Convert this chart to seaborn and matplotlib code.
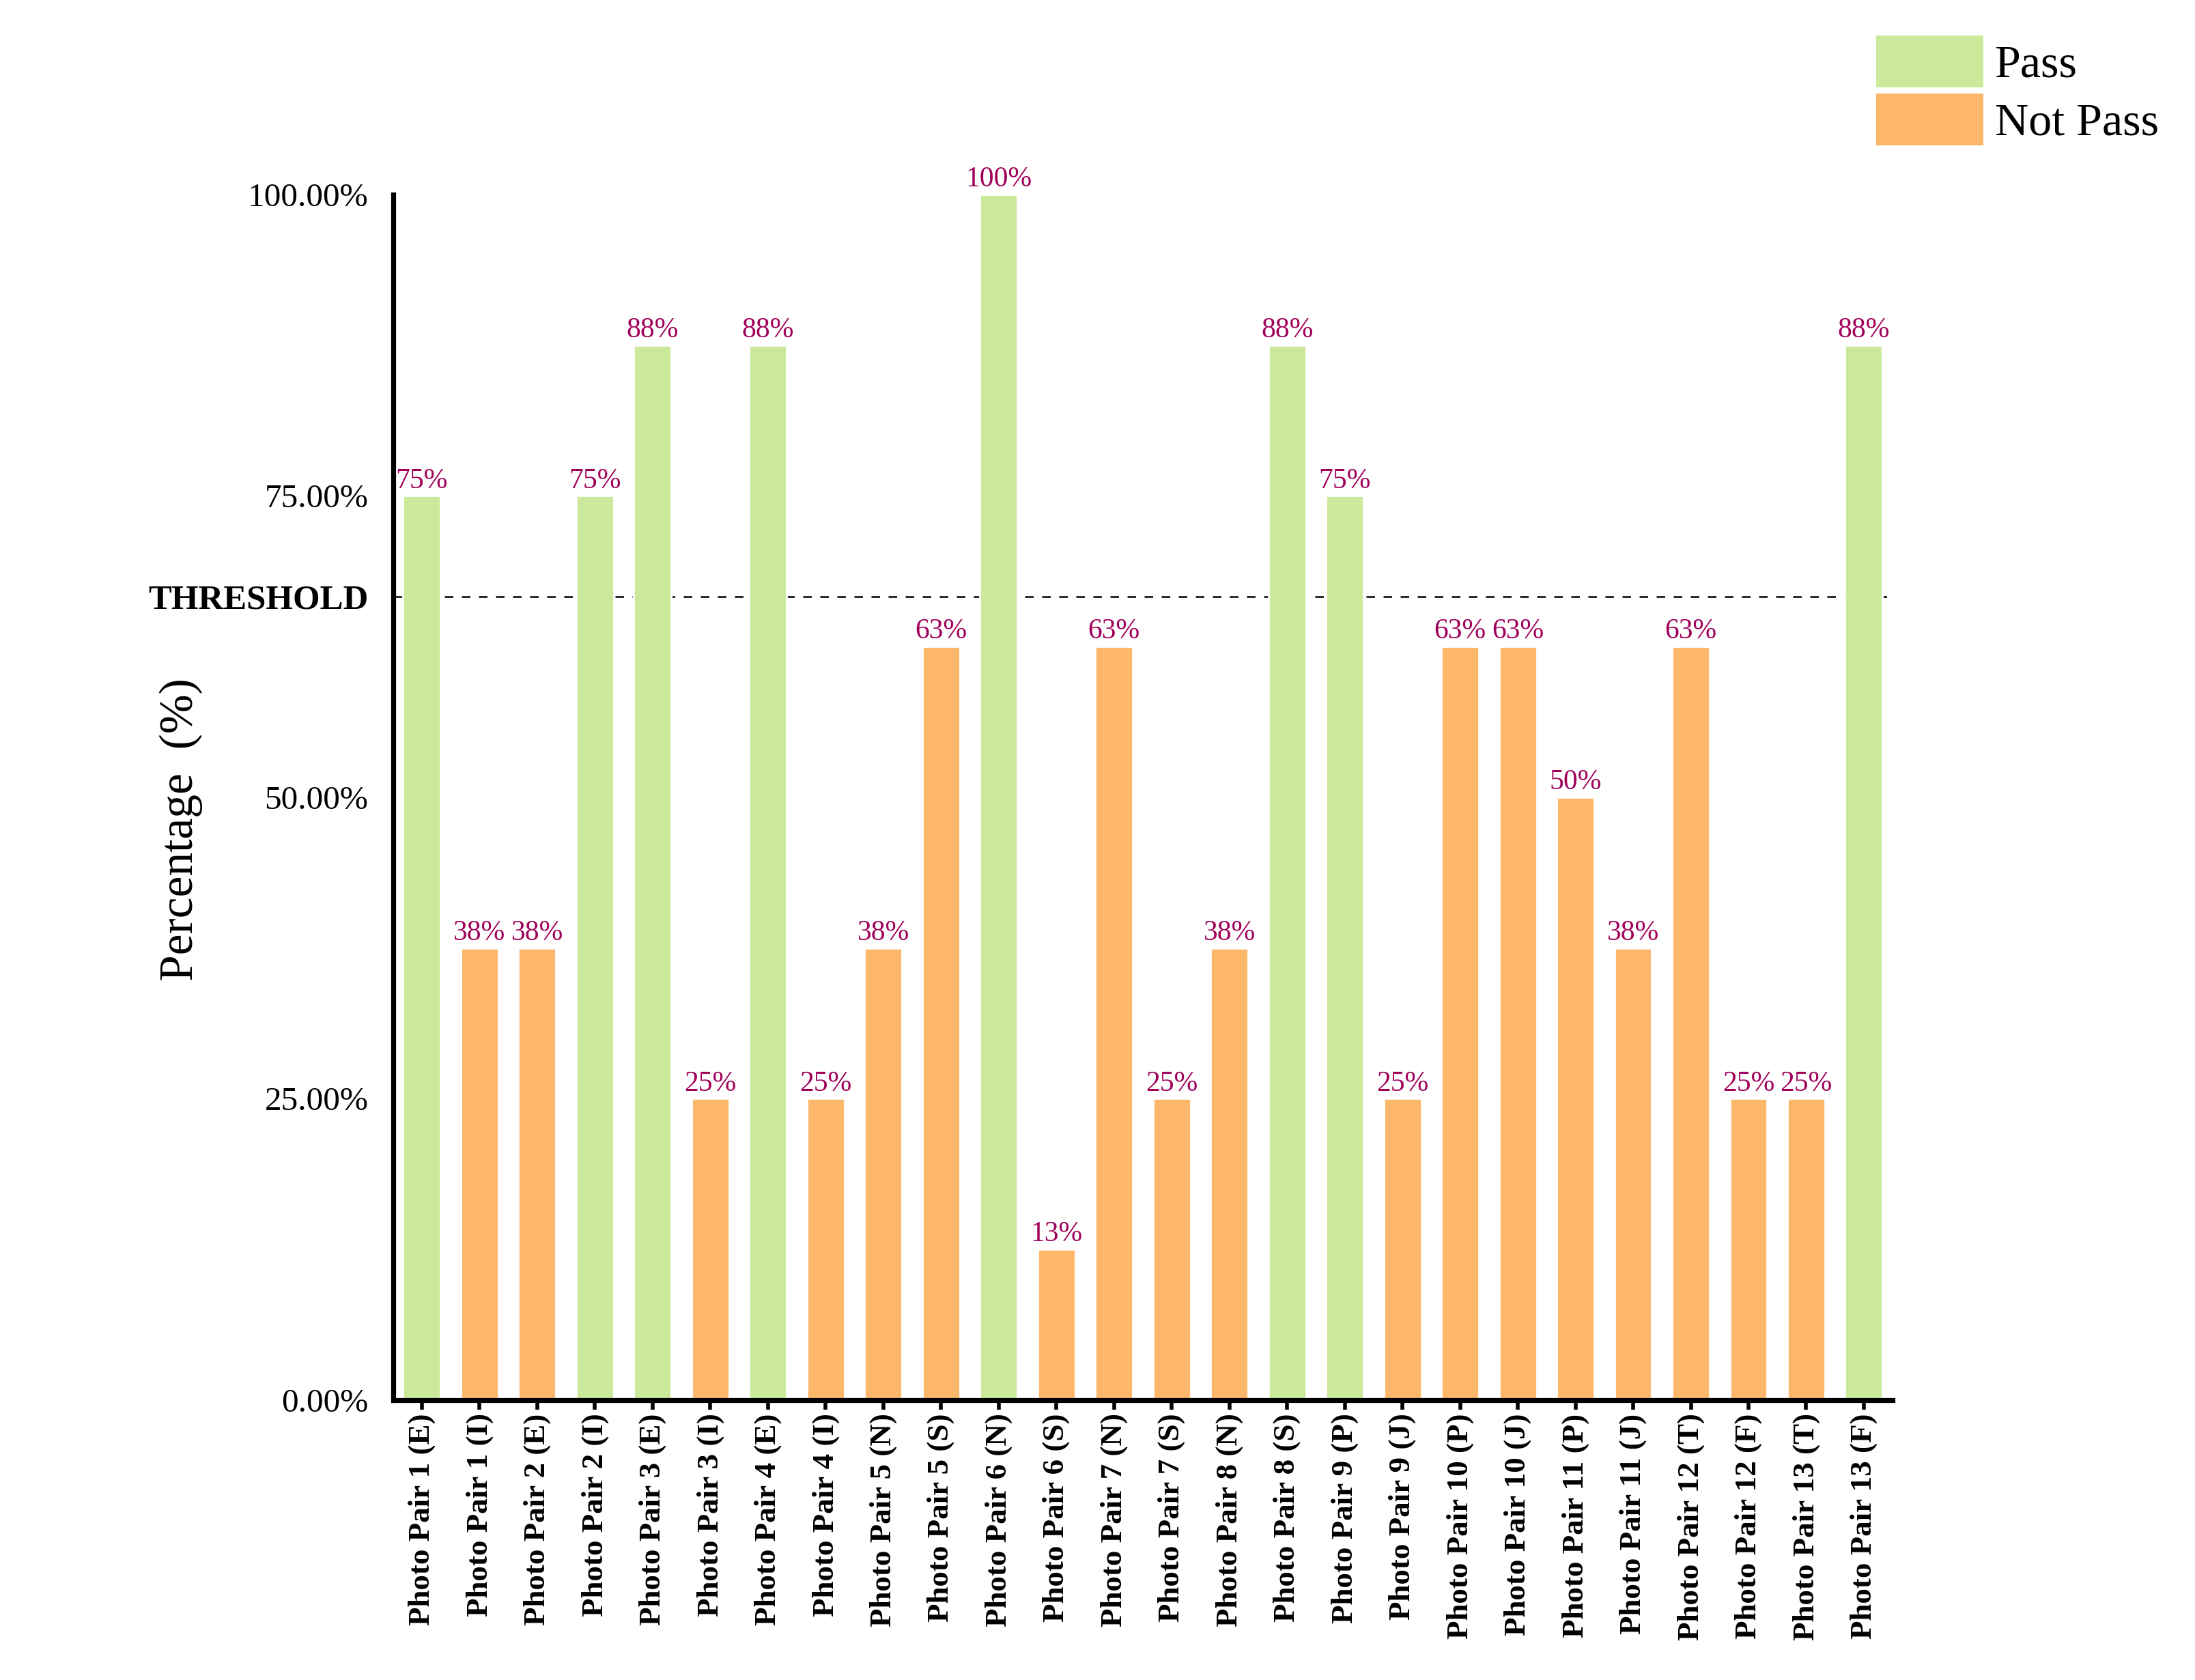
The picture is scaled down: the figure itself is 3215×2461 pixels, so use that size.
import numpy as np
import matplotlib
matplotlib.use("Agg")
import matplotlib.pyplot as plt
from matplotlib.patches import Patch
import pandas as pd
import seaborn as sns

# data
pairs = ["Photo Pair 1 (E)", "Photo Pair 1 (I)", "Photo Pair 2 (E)", "Photo Pair 2 (I)",
         "Photo Pair 3 (E)", "Photo Pair 3 (I)", "Photo Pair 4 (E)", "Photo Pair 4 (I)",
         "Photo Pair 5 (N)", "Photo Pair 5 (S)", "Photo Pair 6 (N)", "Photo Pair 6 (S)",
         "Photo Pair 7 (N)", "Photo Pair 7 (S)", "Photo Pair 8 (N)", "Photo Pair 8 (S)",
         "Photo Pair 9 (P)", "Photo Pair 9 (J)", "Photo Pair 10 (P)", "Photo Pair 10 (J)",
         "Photo Pair 11 (P)", "Photo Pair 11 (J)", "Photo Pair 12 (T)", "Photo Pair 12 (F)",
         "Photo Pair 13 (T)", "Photo Pair 13 (F)"]
percent = [75, 37.5, 37.5, 75, 87.5, 25, 87.5, 25, 37.5, 62.5, 100, 12.5, 62.5,
           25, 37.5, 87.5, 75, 25, 62.5, 62.5, 50, 37.5, 62.5, 25, 25, 87.5]
threshold = 200 / 3
yticks = [0, 25, 50, 75, 100]
status_names = ["Pass", "Not Pass"]
colors = {"Pass": "#CBE99B", "Not Pass": "#FCB76A"}

df = pd.DataFrame({"pair": pairs, "percent": percent})
df["status"] = np.where(df["percent"] > threshold, "Pass", "Not Pass")

sns.set_style("white")
plt.rcParams["font.family"] = ["Liberation Serif", "DejaVu Serif"]
plt.rcParams["text.color"] = "black"
plt.rcParams["axes.labelcolor"] = "black"
plt.rcParams["xtick.color"] = "black"
plt.rcParams["ytick.color"] = "black"

fig = plt.figure(figsize=(16.08, 12.305), dpi=200)
ax = fig.add_axes([0.179, 0.1666, 0.683, 0.7176])

sns.barplot(data=df, x="pair", y="percent", hue="status", palette=colors,
            dodge=False, width=0.65, saturation=1, legend=False, ax=ax)

# value labels above bars (round half up like the original)
for cont in ax.containers:
    labs = []
    for bar in cont:
        h = bar.get_height()
        labs.append("" if np.isnan(h) or h == 0 else f"{int(h + 0.5)}%")
    ax.bar_label(cont, labels=labs, padding=1, fontsize=15, color="#A0005A")

ax.axhline(threshold, color="black", lw=0.9, ls=(0, (5, 5)), zorder=0.5)

ax.set_xlim(-0.5, len(pairs) - 0.5)
ax.set_ylim(0, 100)
ax.set_yticks(yticks + [threshold])
ax.set_yticklabels([f"{v:.2f}%" for v in yticks] + ["THRESHOLD"], fontsize=17.8)
ax.get_yticklabels()[-1].set_fontweight("bold")
ax.get_yticklabels()[-1].set_fontsize(18.3)
ax.tick_params(axis="y", length=0, pad=13)

ax.set_xlabel("")
ax.set_xticks(range(len(pairs)))
ax.set_xticklabels(pairs, rotation=90, fontsize=16.2, fontweight="bold")
ax.tick_params(axis="x", length=5, width=2, pad=2, color="black", bottom=True)

ax.set_ylabel("Percentage  (%)", fontsize=25)
ax.yaxis.set_label_coords(-0.127, 0.473)

for s in ["top", "right"]:
    ax.spines[s].set_visible(False)
for s in ["left", "bottom"]:
    ax.spines[s].set_linewidth(2.6)
    ax.spines[s].set_color("black")

handles = [Patch(facecolor=colors[n], edgecolor="none") for n in status_names]
fig.legend(handles, status_names, loc="upper left",
           bbox_to_anchor=(2748 / 3216, 1 - 52 / 2461), frameon=False,
           fontsize=24.5, handlelength=2.3, handleheight=1.33,
           handletextpad=0.25, labelspacing=0.14, borderpad=0, borderaxespad=0)

fig.savefig("out.png", dpi=200)
